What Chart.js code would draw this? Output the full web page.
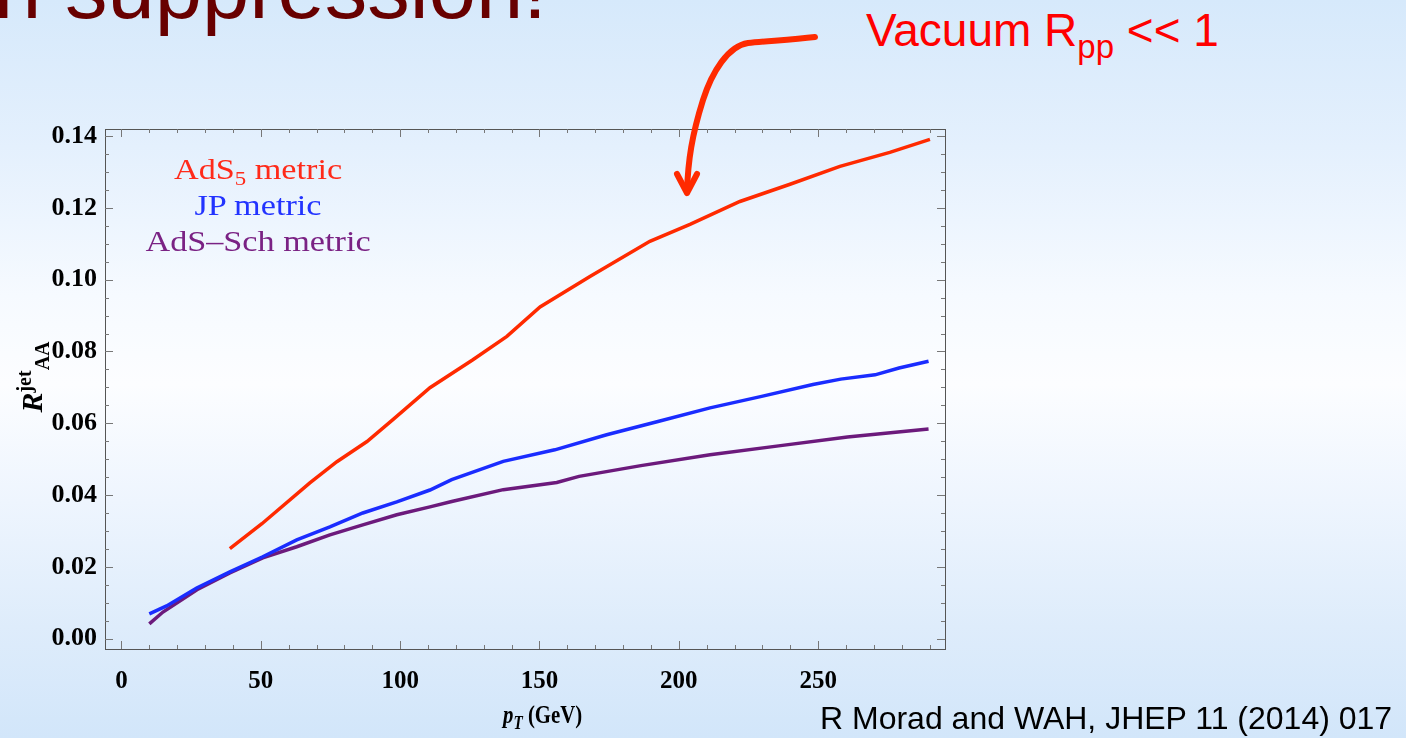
<!DOCTYPE html>
<html>
<head>
<meta charset="utf-8">
<script src="https://cdn.jsdelivr.net/npm/chart.js@4.4.1/dist/chart.umd.min.js"></script>
<style>
  html, body { margin: 0; padding: 0; }
  body {
    width: 1406px; height: 738px; overflow: hidden; position: relative;
    background: linear-gradient(to bottom, #d6e9fb 0%, #e4f0fd 20%, #f6faff 40%, #fcfdff 52%, #eef5fe 68%, #deecfb 85%, #d2e6fa 100%);
    font-family: "Liberation Sans", Arial, sans-serif;
  }
  #plot { position: absolute; left: 0; top: 0; }
  .abs { position: absolute; white-space: nowrap; }
  #heading { left: -6px; top: -60px; font-size: 85px; color: #680000; }
  #note { left: 866px; top: 3px; font-size: 46px; color: #ff0000; }
  #note sub { font-size: 33px; vertical-align: -12px; }
  #cite { left: 820px; top: 700px; font-size: 32px; color: #000; }
  #legend {
    left: 258px; top: 152px; transform: translateX(-50%) scaleX(1.2);
    font-family: "Liberation Serif", "Times New Roman", serif; font-size: 28.5px;
    line-height: 36px; text-align: center;
  }
  #legend sub { font-size: 19px; vertical-align: -6px; line-height: 0; }
  .serif { font-family: "Liberation Serif", "Times New Roman", serif; font-weight: bold; color: #000; }
  #xtitle { left: 503px; top: 700px; font-size: 26px; transform: scaleX(0.8); transform-origin: left center; }
  #ytitle { left: 33px; top: 377px; font-size: 30px; transform: translate(-50%, -50%) rotate(-90deg); }
  .sm { font-size: 20px; }
  #xtitle .sm { font-size: 19px; }
</style>
</head>
<body>
<div id="heading" class="abs">n suppression!</div>
<div id="note" class="abs">Vacuum R<sub>pp</sub> &lt;&lt; 1</div>
<canvas id="plot" width="1406" height="738"></canvas>
<div id="legend" class="abs">
  <div style="color:#ff2a1a">AdS<sub>5</sub> metric</div>
  <div style="color:#2233ff">JP metric</div>
  <div style="color:#7a2284">AdS&#8211;Sch metric</div>
</div>
<div id="xtitle" class="abs serif"><i>p</i><sub class="sm"><i>T</i></sub> (GeV)</div>
<div id="ytitle" class="abs serif"><i>R</i><sup class="sm">jet</sup><sub class="sm">AA</sub></div>
<svg class="abs" style="left:0;top:0" width="1406" height="738">
  <g fill="none" stroke="#ff2a00" stroke-width="6" stroke-linecap="round" stroke-linejoin="round">
    <path d="M815 37 C790 40 765 41 748 43 C728 46 712 72 703 100 C692 135 688 160 687 192"/>
    <path d="M677 174 L687 193 L697 174"/>
  </g>
</svg>
<div id="cite" class="abs">R Morad and WAH, JHEP 11 (2014) 017</div>

<script>
// p_T (GeV) and R^jet_AA for each metric
const ads5Pt = [38.9, 50.4, 67.6, 77.3, 88.1, 97.4, 110.7, 126.1, 138.3, 150.2, 168.1, 189.6, 204.0, 221.9, 239.9, 257.8, 275.7, 290.1];
const ads5R  = [0.0251, 0.0320, 0.0434, 0.0493, 0.0549, 0.0610, 0.0699, 0.0777, 0.0842, 0.0924, 0.1009, 0.1107, 0.1154, 0.1218, 0.1266, 0.1316, 0.1355, 0.1391];

const jpPt = [10.0, 16.2, 27.0, 38.9, 50.7, 62.9, 74.8, 86.6, 98.8, 110.7, 118.5, 137.0, 155.5, 174.1, 192.5, 211.2, 229.7, 248.1, 258.1, 270.4, 279.0, 289.6];
const jpR  = [0.0069, 0.0091, 0.0141, 0.0186, 0.0228, 0.0275, 0.0311, 0.0350, 0.0381, 0.0414, 0.0443, 0.0494, 0.0526, 0.0568, 0.0605, 0.0643, 0.0675, 0.0708, 0.0723, 0.0735, 0.0754, 0.0773];

const schPt = [10.0, 14.9, 27.1, 38.9, 50.7, 62.9, 74.8, 86.6, 98.8, 110.7, 118.5, 137.0, 156.2, 164.2, 186.4, 211.2, 235.8, 260.5, 289.6];
const schR  = [0.0041, 0.0074, 0.0136, 0.0183, 0.0225, 0.0256, 0.0289, 0.0317, 0.0345, 0.0367, 0.0382, 0.0415, 0.0435, 0.0452, 0.0482, 0.0512, 0.0537, 0.0562, 0.0584];

const xTicks = [0, 50, 100, 150, 200, 250];
const yTicks = [0.00, 0.02, 0.04, 0.06, 0.08, 0.10, 0.12, 0.14];

const toPoints = (xs, ys) => xs.map((x, i) => ({ x: x, y: ys[i] }));

// Mathematica-style frame: box plus inward ticks on all four sides
const framePlugin = {
  id: 'frame',
  afterDatasetsDraw(chart) {
    const { ctx, chartArea: a, scales: { x, y } } = chart;
    ctx.save();
    ctx.strokeStyle = '#555';
    ctx.lineWidth = 1;
    ctx.strokeRect(a.left + 0.5, a.top + 0.5, a.right - a.left, a.bottom - a.top);
    ctx.strokeStyle = '#777';
    ctx.beginPath();
    for (let v = 0; v <= 290; v += 10) {
      const px = Math.round(x.getPixelForValue(v)) + 0.5;
      const len = v % 50 === 0 ? 8 : 4;
      ctx.moveTo(px, a.bottom); ctx.lineTo(px, a.bottom - len);
      ctx.moveTo(px, a.top); ctx.lineTo(px, a.top + len);
    }
    for (let k = 0; k <= 28; k++) {
      const py = Math.round(y.getPixelForValue(k * 0.005)) + 0.5;
      const len = k % 4 === 0 ? 8 : 4;
      ctx.moveTo(a.left, py); ctx.lineTo(a.left + len, py);
      ctx.moveTo(a.right, py); ctx.lineTo(a.right - len, py);
    }
    ctx.stroke();
    ctx.restore();
  }
};

const line = (data, color) => ({
  data: data,
  borderColor: color,
  borderWidth: 3.5,
  pointRadius: 0,
  tension: 0,
  fill: false
});

new Chart(document.getElementById('plot'), {
  type: 'line',
  data: {
    datasets: [
      line(toPoints(ads5Pt, ads5R), '#ff2a00'),
      line(toPoints(jpPt, jpR), '#1a2cff'),
      line(toPoints(schPt, schR), '#6c1a7c')
    ]
  },
  options: {
    responsive: false,
    animation: false,
    layout: { padding: { left: 0, top: 129, right: 461, bottom: 0 } },
    plugins: { legend: { display: false }, tooltip: { enabled: false } },
    scales: {
      x: {
        type: 'linear',
        min: -5.9,
        max: 295.5,
        grid: { display: false },
        border: { display: false },
        afterFit(s) { s.height = 89; },
        afterBuildTicks(s) { s.ticks = xTicks.map(v => ({ value: v })); },
        ticks: {
          padding: 10,
          color: '#000',
          maxRotation: 0,
          font: { family: 'Liberation Serif', weight: 'bold', size: 25 },
          callback: v => String(v)
        }
      },
      y: {
        type: 'linear',
        min: -0.0029,
        max: 0.142,
        grid: { display: false },
        border: { display: false },
        afterFit(s) { s.width = 105; },
        afterBuildTicks(s) { s.ticks = yTicks.map(v => ({ value: v })); },
        ticks: {
          padding: 0,
          color: '#000',
          font: { family: 'Liberation Serif', weight: 'bold', size: 26 },
          callback: v => v.toFixed(2)
        }
      }
    }
  },
  plugins: [framePlugin]
});
</script>
</body>
</html>
